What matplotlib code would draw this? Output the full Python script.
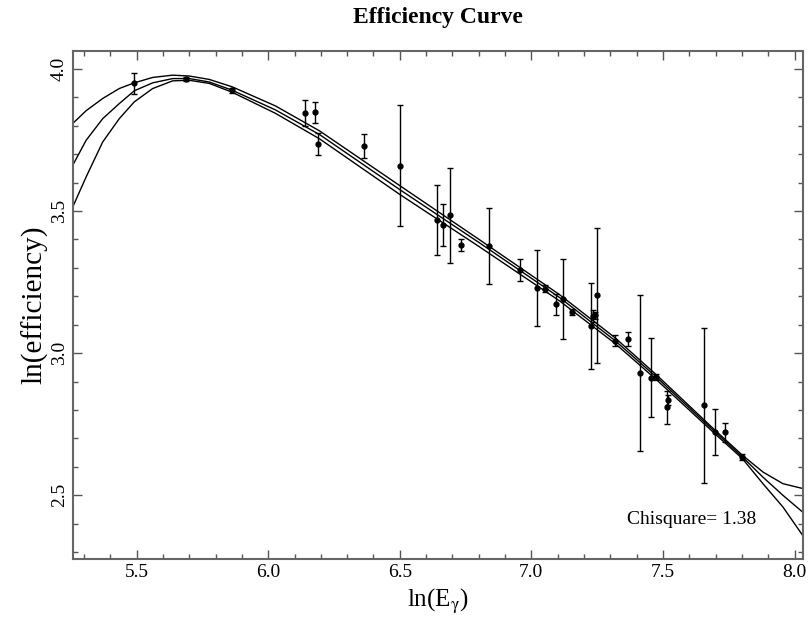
import matplotlib
matplotlib.use('Agg')
from matplotlib import pyplot as plt
from matplotlib.ticker import MultipleLocator, FormatStrFormatter

# measured points: ln(E), ln(eff), error
ln_e = [5.491, 5.688, 5.863, 6.138, 6.176, 6.188, 6.363, 6.500, 6.643, 6.666,
        6.692, 6.732, 6.838, 6.956, 7.020, 7.050, 7.095, 7.120, 7.156, 7.228,
        7.234, 7.243, 7.249, 7.318, 7.366, 7.414, 7.453, 7.475, 7.514, 7.521,
        7.657, 7.697, 7.736, 7.802]
ln_eff = [3.949, 3.964, 3.925, 3.845, 3.848, 3.736, 3.729, 3.660, 3.468, 3.450,
          3.485, 3.380, 3.376, 3.292, 3.229, 3.227, 3.172, 3.190, 3.145, 3.096,
          3.131, 3.133, 3.204, 3.044, 3.050, 2.930, 2.913, 2.916, 2.809, 2.834,
          2.817, 2.724, 2.721, 2.635]
err = [0.036, 0.008, 0.008, 0.047, 0.037, 0.040, 0.041, 0.214, 0.122, 0.074,
       0.167, 0.020, 0.133, 0.039, 0.134, 0.012, 0.037, 0.140, 0.012, 0.151,
       0.020, 0.012, 0.238, 0.019, 0.024, 0.273, 0.139, 0.010, 0.057, 0.018,
       0.273, 0.081, 0.035, 0.012]

# fit curve and its upper / lower band
curve_x = [5.257, 5.308, 5.371, 5.434, 5.491, 5.561, 5.637, 5.700, 5.776, 5.863,
           6.027, 6.195, 6.499, 6.803, 7.107, 7.317, 7.475, 7.697, 7.802, 7.880,
           7.956, 8.031]
fit_mid = [3.661, 3.749, 3.825, 3.878, 3.923, 3.951, 3.966, 3.966, 3.954, 3.925,
           3.856, 3.769, 3.576, 3.388, 3.196, 3.045, 2.916, 2.724, 2.635, 2.564,
           2.500, 2.441]
fit_up = [3.808, 3.853, 3.896, 3.931, 3.951, 3.970, 3.978, 3.975, 3.963, 3.937,
          3.870, 3.782, 3.590, 3.399, 3.206, 3.055, 2.924, 2.730, 2.641, 2.582,
          2.541, 2.524]
fit_low = [3.514, 3.620, 3.743, 3.825, 3.884, 3.931, 3.958, 3.960, 3.949, 3.918,
           3.844, 3.754, 3.559, 3.374, 3.184, 3.035, 2.907, 2.717, 2.629, 2.541,
           2.459, 2.359]

chisq = 1.38

plt.rcParams['font.family'] = ['Liberation Serif', 'DejaVu Serif']
plt.rcParams['mathtext.fontset'] = 'stix'

fig = plt.figure(figsize=(8.09, 6.25), dpi=100)
ax = fig.add_axes([0.0902, 0.1056, 0.9023, 0.8128])

for fy in (fit_up, fit_mid, fit_low):
    ax.plot(curve_x, fy, c='black', lw=1.0)

ax.errorbar(ln_e, ln_eff, yerr=err, fmt='o', c='black', ms=3.5,
            elinewidth=1.0, capsize=2, capthick=1.0)

ax.set_xlim(5.258, 8.032)
ax.set_ylim(2.276, 4.063)
ax.xaxis.set_major_locator(MultipleLocator(0.5))
ax.xaxis.set_minor_locator(MultipleLocator(0.1))
ax.yaxis.set_major_locator(MultipleLocator(0.5))
ax.yaxis.set_minor_locator(MultipleLocator(0.1))
ax.xaxis.set_major_formatter(FormatStrFormatter('%.1f'))
ax.yaxis.set_major_formatter(FormatStrFormatter('%.1f'))
ax.tick_params(which='both', direction='in', top=True, right=True,
               colors='#555555', labelcolor='black', labelsize=14)
ax.tick_params(which='major', length=6.5, width=1.0)
ax.tick_params(which='minor', length=3.3, width=1.0)
for lbl in ax.get_yticklabels():
    lbl.set_rotation(90)
    lbl.set_va('center')
for sp in ax.spines.values():
    sp.set_color('#666666')
    sp.set_linewidth(1.5)

ax.set_xlabel(r'ln(E$_{\mathrm{\gamma}}$)', fontsize=18)
ax.set_ylabel('ln(efficiency)', fontsize=21, labelpad=2)
ax.text(7.856, 2.415, 'Chisquare= %.2f' % chisq, fontsize=14,
        ha='right', va='center')
fig.text(0.541, 0.972, 'Efficiency Curve', fontsize=17, fontweight='bold',
         ha='center', va='center')

fig.savefig('out.png', dpi=100)
